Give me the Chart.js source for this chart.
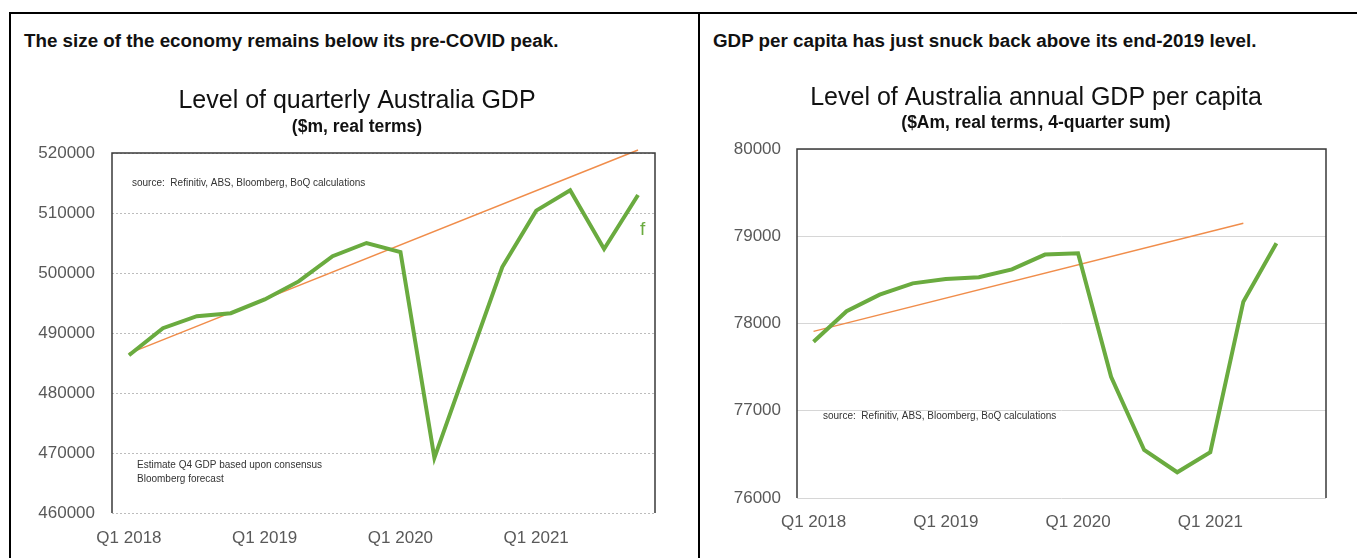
<!DOCTYPE html>
<html>
<head>
<meta charset="utf-8">
<script src="https://cdn.jsdelivr.net/npm/chart.js@4.4.1/dist/chart.umd.min.js"></script>
<style>
  body { margin: 0; background: #fff; width: 1357px; height: 558px; overflow: hidden; position: relative; font-family: "Liberation Sans", Arial, sans-serif; }
  .panel { position: absolute; top: 12px; height: 600px; border-top: 2px solid #000; }
  #panelLeft { left: 9px; width: 687px; border-left: 2px solid #000; border-right: 2px solid #000; }
  #panelRight { left: 700px; width: 700px; }
  .head { position: absolute; top: 31px; font-weight: bold; font-size: 18.8px; line-height: 19px; color: #111; white-space: nowrap; }
  canvas { position: absolute; top: 60px; }
</style>
</head>
<body>
<div class="panel" id="panelLeft"></div>
<div class="panel" id="panelRight"></div>
<div class="head" style="left:24px">The size of the economy remains below its pre-COVID peak.</div>
<div class="head" style="left:713px">GDP per capita has just snuck back above its end-2019 level.</div>
<canvas id="chartLeft" width="685" height="498" style="left:12px"></canvas>
<canvas id="chartRight" width="656" height="498" style="left:701px"></canvas>
<script>
// data
var quarters = ['Q1 2018', 'Q2 2018', 'Q3 2018', 'Q4 2018', 'Q1 2019', 'Q2 2019', 'Q3 2019', 'Q4 2019',
                'Q1 2020', 'Q2 2020', 'Q3 2020', 'Q4 2020', 'Q1 2021', 'Q2 2021', 'Q3 2021', 'Q4 2021'];

// quarterly GDP, $m real (Q4 2021 is the forecast)
var gdpLevel = [486300, 490800, 492800, 493300, 495600, 498600, 502800, 505000,
                503500, 469200, 485100, 501000, 510400, 513800, 504000, 513000];
// pre-COVID trend, two ends only
var gdpTrend = [486600, null, null, null, null, null, null, null,
                null, null, null, null, null, null, null, 520500];
var gdpTicks = [460000, 470000, 480000, 490000, 500000, 510000, 520000];

// annual GDP per capita, $A real
var perCapita = [77790, 78140, 78330, 78460, 78510, 78530, 78620, 78790,
                 78805, 77390, 76550, 76295, 76525, 78250, 78920, null];
var perCapitaTrend = [77910, null, null, null, null, null, null, null,
                      null, null, null, null, null, 79150, null, null];
var perCapitaTicks = [76000, 77000, 78000, 79000, 80000];

var GREEN = '#6aab3f';
var ORANGE = '#f08d4b';
var FRAME = '#3a3a3a';
var FONT = '"Liberation Sans", Arial, sans-serif';

// left axis line, top + right edge of the plot box, and the little text notes
var framePlugin = {
    id: 'frame',
    afterDatasetsDraw: function(chart) {
        var a = chart.chartArea;
        var ctx = chart.ctx;
        ctx.save();
        ctx.strokeStyle = FRAME;
        ctx.lineWidth = 1.5;
        ctx.setLineDash([]);
        ctx.beginPath();
        ctx.moveTo(a.left, a.bottom);
        ctx.lineTo(a.left, a.top);
        ctx.lineTo(a.right, a.top);
        ctx.lineTo(a.right, a.bottom);
        ctx.stroke();

        var notes = chart.options.plugins.notes || [];
        notes.forEach(function(n) {
            ctx.font = n.font;
            ctx.fillStyle = n.color;
            ctx.textBaseline = 'middle';
            ctx.textAlign = 'left';
            var x, y;
            if (n.point) {
                var meta = chart.getDatasetMeta(n.point[0]).data[n.point[1]];
                x = meta.x + n.dx;
                y = meta.y + n.dy;
            } else {
                x = a.left + n.dx;
                y = a.top + n.dy;
            }
            if (n.width) {
                ctx.fillText(n.text, x, y, n.width);
            } else {
                ctx.fillText(n.text, x, y);
            }
        });
        ctx.restore();
    }
};

function makeChart(id, cfg) {
    return new Chart(document.getElementById(id), {
        type: 'line',
        data: {
            labels: quarters,
            datasets: [{
                data: cfg.trend,
                borderColor: ORANGE,
                borderWidth: 1.5,
                pointRadius: 0,
                spanGaps: true,
                clip: false,
                order: 2
            }, {
                data: cfg.series,
                borderColor: GREEN,
                borderWidth: 4,
                pointRadius: 0,
                borderJoinStyle: 'miter',
                order: 1
            }]
        },
        options: {
            responsive: false,
            animation: false,
            layout: { padding: { left: cfg.padLeft, right: 0, top: 0, bottom: 0 } },
            plugins: {
                legend: { display: false },
                tooltip: { enabled: false },
                title: {
                    display: true,
                    text: cfg.title,
                    color: '#111',
                    font: { family: FONT, size: 25, weight: 'normal', lineHeight: 1.2 },
                    padding: { top: cfg.titleTop, bottom: 0 }
                },
                subtitle: {
                    display: true,
                    text: cfg.subtitle,
                    color: '#111',
                    font: { family: FONT, size: 17.5, weight: 'bold', lineHeight: 1.2 },
                    padding: { top: cfg.subTop, bottom: cfg.subBottom }
                },
                notes: cfg.notes
            },
            scales: {
                x: {
                    offset: true,
                    grid: { display: false, drawTicks: false },
                    border: { display: false },
                    ticks: {
                        autoSkip: false,
                        maxRotation: 0,
                        color: '#595959',
                        font: { family: FONT, size: 17 },
                        padding: cfg.xPad,
                        callback: function(v, i) {
                            return i % 4 === 0 ? quarters[i] : '';
                        }
                    },
                    afterFit: function(axis) { axis.height = cfg.xHeight; }
                },
                y: {
                    min: cfg.ticks[0],
                    max: cfg.ticks[cfg.ticks.length - 1],
                    afterBuildTicks: function(axis) {
                        axis.ticks = cfg.ticks.map(function(v) { return { value: v }; });
                    },
                    grid: { color: cfg.gridColor, lineWidth: 1, drawTicks: false },
                    // in v4 border.dash is what dashes the grid lines; the axis line itself is drawn by the frame plugin
                    border: { display: false, dash: cfg.gridDash },
                    ticks: {
                        color: '#595959',
                        font: { family: FONT, size: 17 },
                        padding: cfg.yPad,
                        callback: function(v) { return String(v); }
                    },
                    afterFit: function(axis) { axis.width = cfg.yWidth; }
                },
                // empty right axis, only keeps the gap so the titles stay centred on the panel
                yRight: {
                    position: 'right',
                    grid: { display: false },
                    border: { display: false },
                    ticks: { display: false },
                    afterFit: function(axis) { axis.width = cfg.padRight; }
                }
            }
        },
        plugins: [framePlugin]
    });
}

makeChart('chartLeft', {
    series: gdpLevel,
    trend: gdpTrend,
    ticks: gdpTicks,
    title: 'Level of quarterly Australia GDP',
    subtitle: '($m, real terms)',
    titleTop: 26, subTop: 1, subBottom: 15,
    padLeft: 5, padRight: 42, yWidth: 95, yPad: 17, xHeight: 45, xPad: 15,
    gridColor: '#bdbdbd',
    gridDash: [2, 2],
    notes: [
        { text: 'source:  Refinitiv, ABS, Bloomberg, BoQ calculations', dx: 20, dy: 30, font: '10px ' + FONT, color: '#333', width: 274 },
        { text: 'Estimate Q4 GDP based upon consensus', dx: 25, dy: 312, font: '10px ' + FONT, color: '#333', width: 216 },
        { text: 'Bloomberg forecast', dx: 25, dy: 326, font: '10px ' + FONT, color: '#333', width: 100 },
        { text: 'f', point: [1, 15], dx: 2, dy: 35, font: '19px ' + FONT, color: GREEN }
    ]
});

makeChart('chartRight', {
    series: perCapita,
    trend: perCapitaTrend,
    ticks: perCapitaTicks,
    title: 'Level of Australia annual GDP per capita',
    subtitle: '($Am, real terms, 4-quarter sum)',
    titleTop: 23, subTop: 0, subBottom: 15,
    padLeft: 14, padRight: 31, yWidth: 82, yPad: 16, xHeight: 60, xPad: 14,
    gridColor: '#d6d6d6',
    gridDash: [],
    notes: [
        { text: 'source:  Refinitiv, ABS, Bloomberg, BoQ calculations', dx: 26, dy: 267, font: '10px ' + FONT, color: '#333', width: 267 }
    ]
});
</script>
</body>
</html>
